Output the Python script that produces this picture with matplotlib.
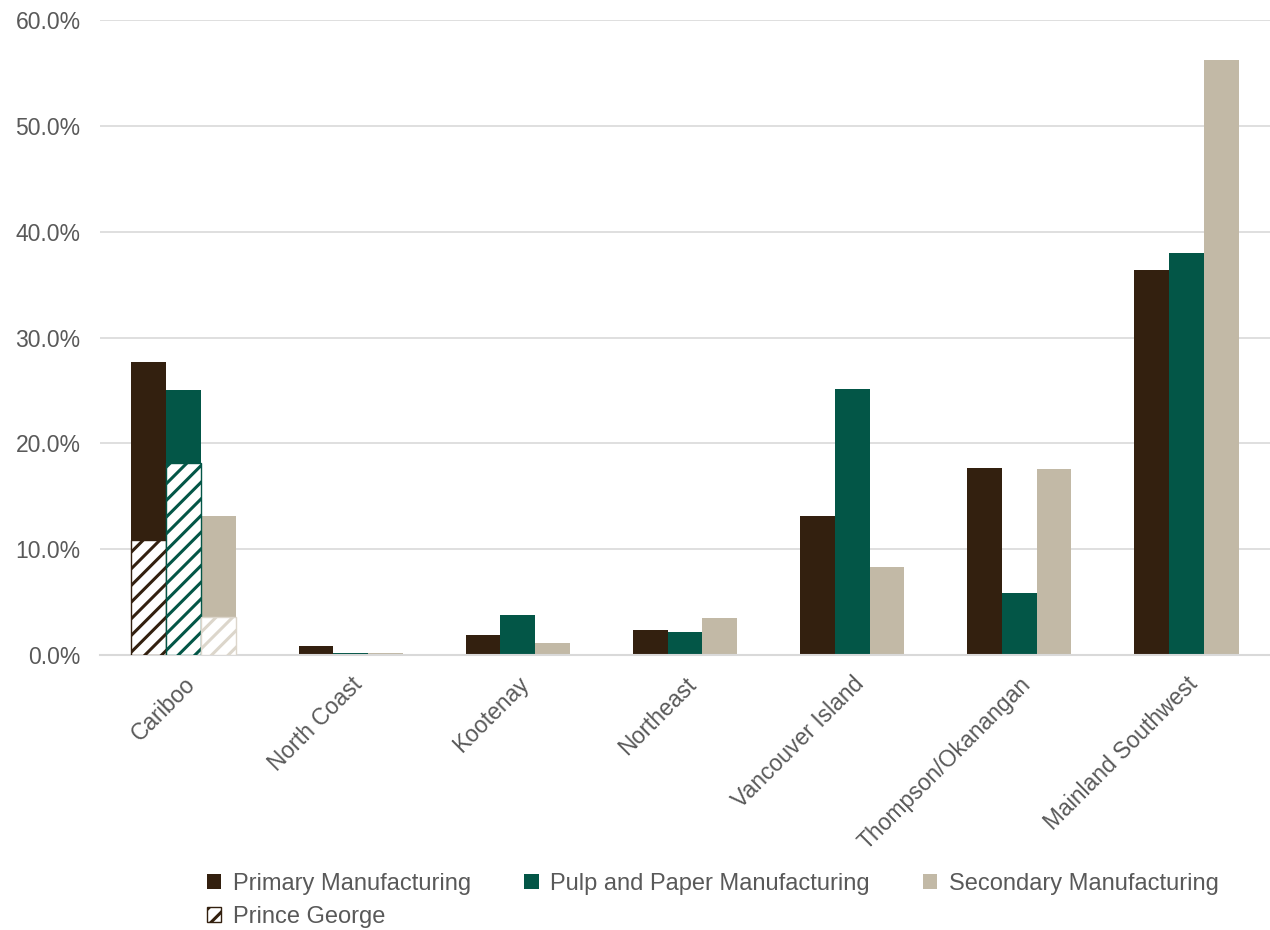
import matplotlib.pyplot as plt
import numpy as np
from matplotlib.patches import Patch
from matplotlib.ticker import FuncFormatter

plt.rcParams['font.family'] = ['Liberation Sans', 'DejaVu Sans']
plt.rcParams['hatch.linewidth'] = 2.2

regions = ["Cariboo", "North Coast", "Kootenay", "Northeast",
           "Vancouver Island", "Thompson/Okanangan", "Mainland Southwest"]

primary = [27.7, 0.85, 1.9, 2.4, 13.1, 17.7, 36.4]
pulp = [25.0, 0.15, 3.8, 2.2, 25.1, 5.9, 38.0]
secondary = [13.1, 0.15, 1.1, 3.5, 8.3, 17.6, 56.2]

# Prince George share (part of Cariboo)
pg_primary = 10.9
pg_pulp = 18.1
pg_secondary = 3.6

c_primary = '#33200F'
c_pulp = '#035647'
c_secondary = '#C2B9A6'
c_sec_hatch = '#DCD6CB'
text_col = '#595959'

fig = plt.figure(figsize=(12.7, 9.3), dpi=100)
ax = fig.add_axes([100 / 1270, 1 - 655 / 930, 1170 / 1270, 635 / 930])

x = np.arange(len(regions))
w = 0.208

ax.bar(x - w, primary, w, color=c_primary, zorder=2)
ax.bar(x, pulp, w, color=c_pulp, zorder=2)
ax.bar(x + w, secondary, w, color=c_secondary, zorder=2)

# Prince George hatched overlay on Cariboo
ax.bar(x[0] - w, pg_primary, w, facecolor='white', edgecolor=c_primary,
       hatch='//', linewidth=1.0, zorder=3)
ax.bar(x[0], pg_pulp, w, facecolor='white', edgecolor=c_pulp,
       hatch='//', linewidth=1.0, zorder=3)
ax.bar(x[0] + w, pg_secondary, w, facecolor='white', edgecolor=c_sec_hatch,
       hatch='//', linewidth=1.0, zorder=3)

ax.set_ylim(0, 60)
ax.set_xlim(-0.5, len(regions) - 0.5)
ax.set_yticks(np.arange(0, 61, 10))
ax.yaxis.set_major_formatter(FuncFormatter(lambda v, p: f"{v:.1f}%"))
ax.grid(axis='y', color='#D9D9D9', linewidth=1.2, zorder=0)
ax.set_axisbelow(True)
for s in ['top', 'right', 'left']:
    ax.spines[s].set_visible(False)
ax.spines['bottom'].set_color('#D9D9D9')
ax.spines['bottom'].set_linewidth(1.5)
ax.tick_params(axis='both', length=0, labelsize=16.5, labelcolor=text_col)
ax.tick_params(axis='y', pad=14)

ax.set_xticks(x)
ax.set_xticklabels(regions, rotation=45, ha='right', rotation_mode='anchor')
for lbl in ax.get_xticklabels():
    lbl.set_y(-0.02)

handles = [
    Patch(facecolor=c_primary, label='Primary Manufacturing'),
    Patch(facecolor='white', edgecolor=c_primary, hatch='//', label='Prince George'),
    Patch(facecolor=c_pulp, label='Pulp and Paper Manufacturing'),
    Patch(facecolor=c_secondary, label='Secondary Manufacturing'),
]
leg = fig.legend(handles=handles, ncol=3, loc='upper left',
                 bbox_to_anchor=(186 / 1270, 1 - 852 / 930), frameon=False,
                 fontsize=17, handlelength=0.6, handleheight=0.6,
                 handletextpad=0.5, columnspacing=2.25, labelspacing=0.45)
for t in leg.get_texts():
    t.set_color(text_col)

fig.savefig('out.png', dpi=100)
